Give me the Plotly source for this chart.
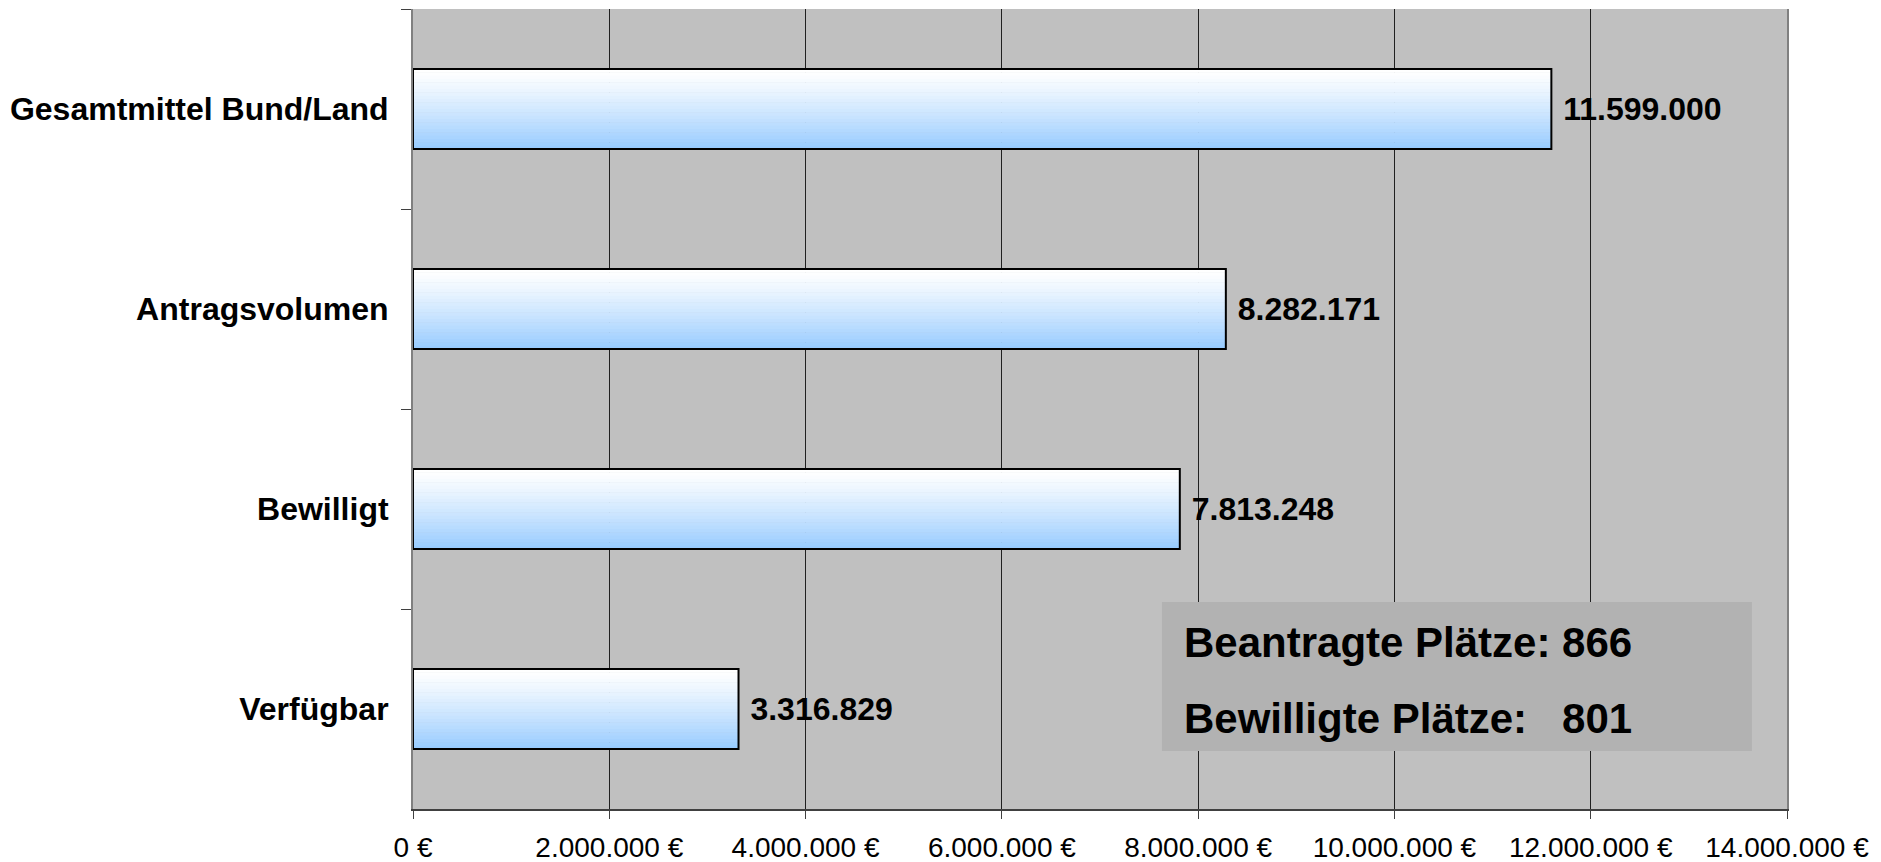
import plotly.graph_objects as go

categories = ["Gesamtmittel Bund/Land", "Antragsvolumen", "Bewilligt", "Verfügbar"]
values = [11599000, 8282171, 7813248, 3316829]
x_tick_values = [0, 2000000, 4000000, 6000000, 8000000, 10000000, 12000000, 14000000]
x_tick_labels = ["0 €", "2.000.000 €", "4.000.000 €", "6.000.000 €", "8.000.000 €",
                 "10.000.000 €", "12.000.000 €", "14.000.000 €"]
info_lines = ["Beantragte Plätze: 866", "Bewilligte Plätze:   801"]

FONT = "Liberation Sans, Arial, sans-serif"
BAR_W = 0.4
N_SLICES = 24
top_rgb = (255, 255, 255)
bot_rgb = (153, 204, 255)

fig = go.Figure()

# gradient fill built from thin slices of each bar
sw = BAR_W / N_SLICES
for i in range(N_SLICES):
    t = (i / (N_SLICES - 1)) ** 1.2
    c = tuple(round(top_rgb[k] + (bot_rgb[k] - top_rgb[k]) * t) for k in range(3))
    fig.add_trace(go.Bar(
        y=categories, x=values, orientation="h",
        width=sw * 1.15, offset=-BAR_W / 2 + i * sw,
        marker=dict(color="rgb(%d,%d,%d)" % c, line=dict(width=0)),
        hoverinfo="skip", showlegend=False,
    ))

# outline + value labels
fig.add_trace(go.Bar(
    y=categories, x=values, orientation="h",
    width=BAR_W, offset=-BAR_W / 2,
    marker=dict(color="rgba(0,0,0,0)", line=dict(color="black", width=2)),
    texttemplate="\u00a0%{x:,d}", textposition="outside", constraintext="none",
    cliponaxis=False,
    textfont=dict(family=FONT, size=32, color="black", weight="bold"),
    hoverinfo="skip", showlegend=False,
))

fig.update_layout(
    width=1881, height=862,
    margin=dict(l=413, r=94, t=9, b=53),
    paper_bgcolor="white", plot_bgcolor="#c0c0c0",
    barmode="overlay", separators=",.",
    font=dict(family=FONT, color="black"),
    showlegend=False,
)
fig.update_xaxes(
    range=[0, 14000000], tickmode="array", tickvals=x_tick_values, ticktext=x_tick_labels,
    showgrid=True, gridcolor="#202020", gridwidth=1,
    showline=True, linecolor="#404040", linewidth=2,
    ticks="outside", ticklen=8, tickcolor="#404040", tickwidth=1,
    tickfont=dict(family=FONT, size=28, color="black"),
    ticklabelstandoff=4, zeroline=False, automargin=False,
)
fig.update_yaxes(
    type="category", autorange="reversed", tickson="boundaries",
    showgrid=False, showline=True, linecolor="#808080", linewidth=2, mirror=True,
    ticks="outside", ticklen=10, tickcolor="#404040", tickwidth=1,
    tickfont=dict(family=FONT, size=32, color="black", weight="bold"),
    ticklabelstandoff=16, automargin=False,
)

# info box
fig.add_shape(type="rect", xref="paper", yref="paper",
              x0=0.5451, x1=0.9745, y0=0.0725, y1=0.25875,
              fillcolor="#b2b2b2", line=dict(width=0), layer="above")
for txt, yy in zip(info_lines, [0.20875, 0.11375]):
    fig.add_annotation(xref="paper", yref="paper", x=0.5597, y=yy,
                       xanchor="left", yanchor="middle", showarrow=False,
                       text=txt.replace(" ", "\u00a0"),
                       font=dict(family=FONT, size=42, color="black", weight="bold"))

fig.write_html("out.html", config={"displayModeBar": False},
               post_script="document.body.style.margin='0';document.body.style.overflow='hidden';")
